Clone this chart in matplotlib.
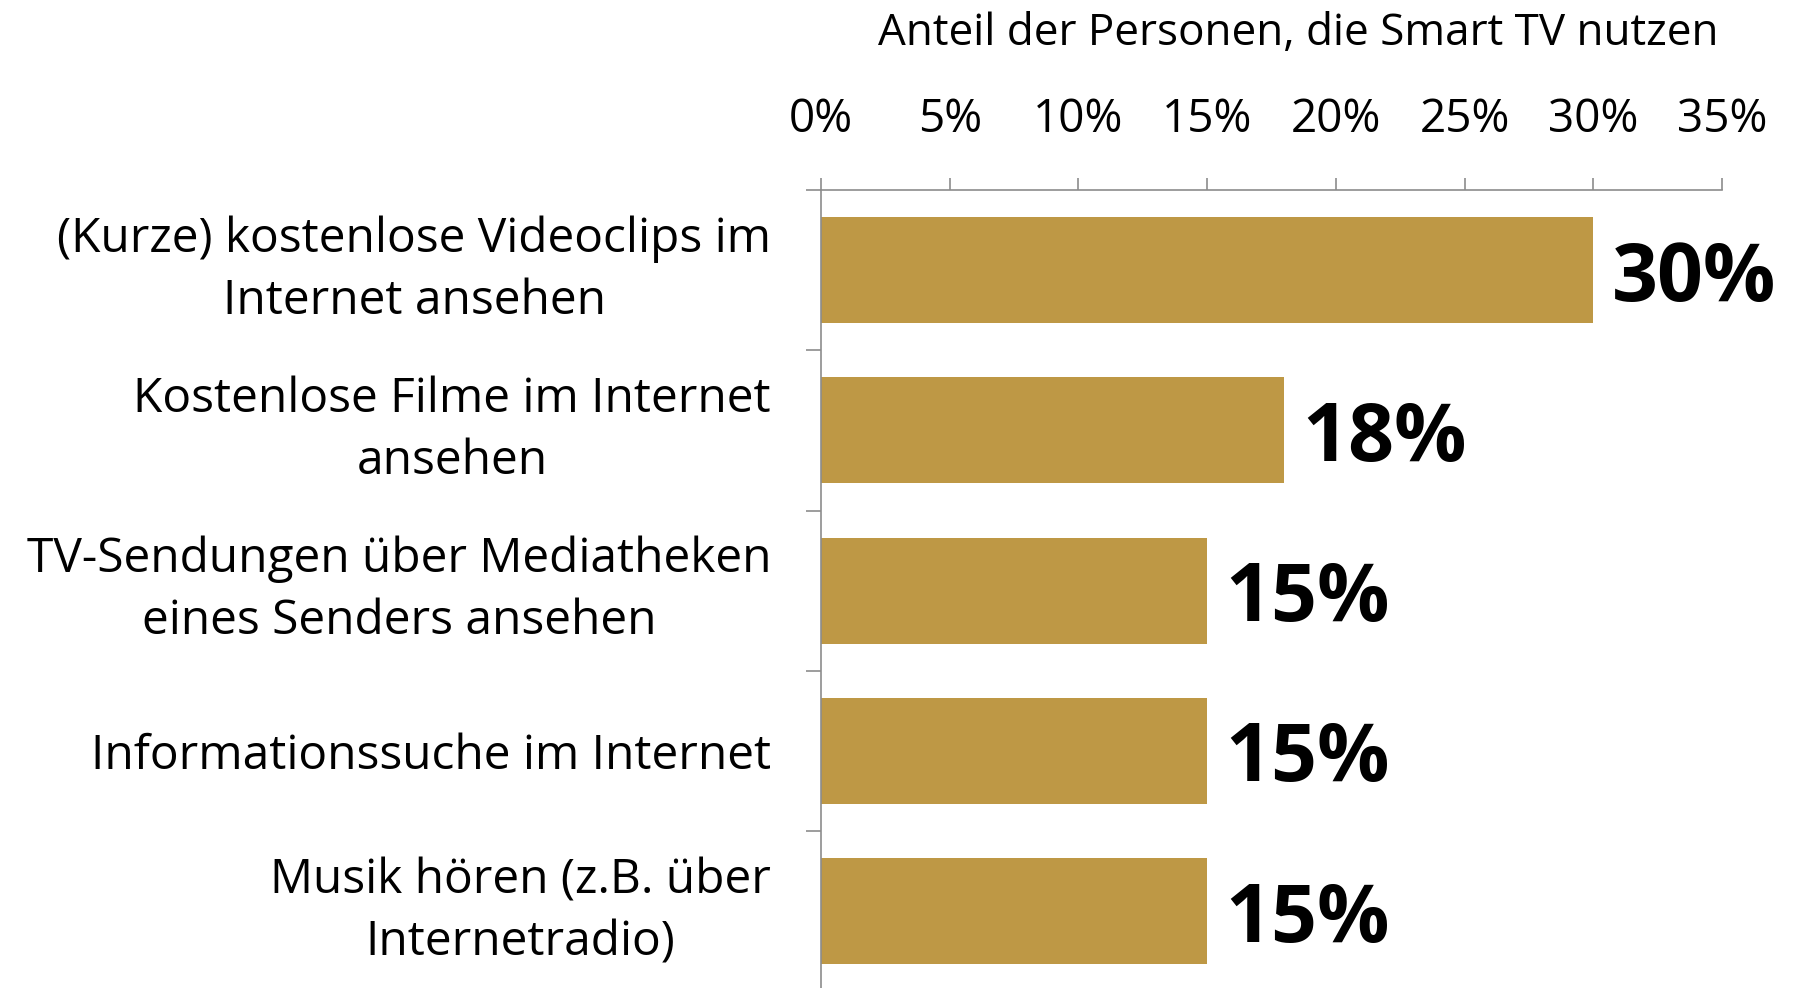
import matplotlib.pyplot as plt
import numpy as np
from matplotlib.ticker import FixedLocator

plt.rcParams['font.family'] = ['Open Sans', 'DejaVu Sans']

categories = [
    "(Kurze) kostenlose Videoclips im\nInternet ansehen",
    "Kostenlose Filme im Internet\nansehen",
    "TV-Sendungen über Mediatheken\neines Senders ansehen",
    "Informationssuche im Internet",
    "Musik hören (z.B. über\nInternetradio)",
]
values = [30, 18, 15, 15, 15]
xticks = [0, 5, 10, 15, 20, 25, 30, 35]
xlabel = "Anteil der Personen, die Smart TV nutzen"

bar_color = '#BE9845'
axis_color = '#8C8C8C'

fig = plt.figure(figsize=(17.93, 9.88), dpi=100)
ax = fig.add_axes([0.4579, -0.0035, 0.5026, 0.8113])

y = np.arange(len(categories))
ax.barh(y, values, height=0.66, color=bar_color)
ax.set_xlim(0, 35)
ax.set_ylim(len(categories) - 0.5, -0.5)

# value labels
for yi, v in zip(y, values):
    ax.text(v + 0.7, yi, f"{v}%", va='center_baseline', ha='left',
            fontsize=58, fontweight='bold', color='black')

# x axis on top
ax.xaxis.tick_top()
ax.set_xticks(xticks)
ax.set_xticklabels([f"{t}%" for t in xticks])
ax.tick_params(axis='x', direction='out', length=9, width=1.2, color=axis_color,
               labelsize=33, pad=25)

# y axis: labels at centers, ticks at category boundaries
ax.set_yticks(y)
ax.set_yticklabels(categories)
ax.yaxis.set_minor_locator(FixedLocator(np.arange(-0.5, len(categories), 1.0)))
ax.tick_params(axis='y', which='major', length=0, labelsize=34.5, pad=36)
ax.tick_params(axis='y', which='minor', direction='out', length=11, width=1.2,
               color=axis_color)
for t in ax.get_yticklabels():
    t.set_multialignment('center')
    t.set_linespacing(1.4)
    if "\n" in t.get_text():
        t.set_verticalalignment('center')

for s in ['right', 'bottom']:
    ax.spines[s].set_visible(False)
for s in ['left', 'top']:
    ax.spines[s].set_color(axis_color)
    ax.spines[s].set_linewidth(1.2)

fig.text(1503 / 1568, 1 - 39 / 864, xlabel, ha='right', va='baseline', fontsize=31.7)

fig.savefig("out.png", dpi=100)
